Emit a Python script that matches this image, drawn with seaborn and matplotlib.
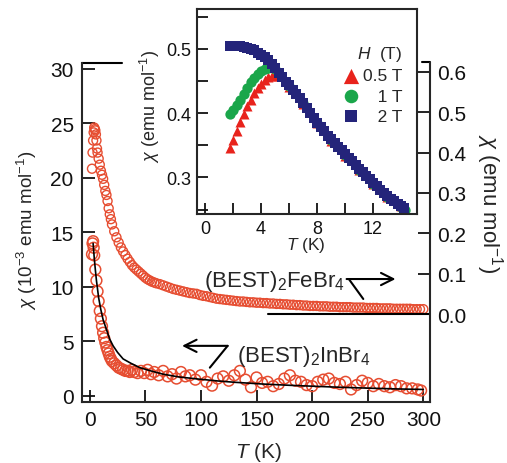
import matplotlib
matplotlib.use("Agg")
import matplotlib.pyplot as plt
import seaborn as sns
from matplotlib.lines import Line2D

# ---------------- main panel data ----------------
# (BEST)2FeBr4, right axis (emu/mol)
fe_T = [2, 2.5, 3, 3.5, 4, 4.5, 5, 5.5, 6, 6.5, 7, 8, 9, 10, 11, 12, 13, 14, 15, 16,
        17, 18, 19, 20, 22, 24, 26, 28, 30, 32, 34, 36, 38, 40, 42, 44, 46, 48, 50, 52,
        54, 56, 58, 60, 63, 66, 69, 72, 75, 78, 81, 84, 87, 90, 93, 96, 99, 102, 105,
        108, 111, 114, 117, 120, 123, 126, 129, 132, 135, 138, 141, 144, 147, 150, 153,
        156, 159, 162, 165, 168, 171, 174, 177, 180, 183, 186, 189, 192, 195, 198, 201,
        204, 207, 210, 213, 216, 219, 222, 225, 228, 231, 234, 237, 240, 243, 246, 249,
        252, 255, 258, 261, 264, 267, 270, 273, 276, 279, 282, 285, 288, 291, 294, 297,
        300]
fe_chi = [0.36, 0.40, 0.43, 0.45, 0.462, 0.458, 0.455, 0.445, 0.43, 0.41, 0.40, 0.385,
          0.37, 0.355, 0.345, 0.335, 0.32, 0.305, 0.295, 0.28, 0.262, 0.247, 0.235, 0.222,
          0.205, 0.19, 0.177, 0.165, 0.155, 0.146, 0.137, 0.129, 0.121, 0.115, 0.11,
          0.105, 0.10, 0.095, 0.09, 0.086, 0.083, 0.08, 0.078, 0.076, 0.074, 0.071, 0.068,
          0.065, 0.062, 0.060, 0.058, 0.056, 0.054, 0.052, 0.051, 0.050, 0.047, 0.045,
          0.044, 0.042, 0.040, 0.038, 0.037, 0.036, 0.035, 0.034, 0.033, 0.032, 0.031,
          0.031, 0.030, 0.029, 0.029, 0.028, 0.028, 0.027, 0.027, 0.026, 0.026, 0.025,
          0.025, 0.024, 0.024, 0.023, 0.023, 0.022, 0.022, 0.021, 0.021, 0.020, 0.020,
          0.020, 0.019, 0.019, 0.019, 0.018, 0.018, 0.018, 0.017, 0.017, 0.017, 0.017,
          0.016, 0.016, 0.016, 0.016, 0.015, 0.015, 0.015, 0.015, 0.014, 0.014, 0.014,
          0.014, 0.013, 0.013, 0.013, 0.013, 0.013, 0.013, 0.012, 0.012, 0.012, 0.012]

# (BEST)2InBr4, left axis (1e-3 emu/mol)
in_T = [2, 2.5, 3, 3.5, 4, 5, 6, 7, 8, 9, 10, 11, 12, 13, 14, 15, 16, 17, 18, 19, 20,
        22, 24, 26, 28, 30, 32, 34, 36, 38, 40, 43, 46, 49, 52, 55, 58, 62, 66, 70, 74,
        78, 82, 86, 90, 95, 100, 105, 110, 115, 120, 125, 130, 135, 140, 145, 150, 155,
        160, 165, 170, 175, 180, 185, 190, 195, 200, 205, 210, 215, 220, 225, 230, 235,
        240, 245, 250, 255, 260, 265, 270, 275, 280, 285, 290, 295, 298]
in_chi = [13.0, 14.0, 14.2, 13.6, 12.9, 11.6, 10.6, 9.6, 8.7, 7.8, 7.1, 6.4, 5.8, 5.3,
          4.9, 4.5, 4.2, 3.9, 3.6, 3.4, 3.2, 3.0, 2.8, 2.6, 2.5, 2.4, 2.3, 2.3, 2.2, 2.4,
          2.2, 2.1, 2.3, 2.1, 2.4, 2.0, 2.2, 1.9, 2.3, 1.8, 2.0, 1.6, 2.2, 1.8, 1.9, 1.5,
          1.9, 1.3, 0.95, 1.6, 1.8, 1.4, 1.9, 2.3, 1.5, 0.8, 1.7, 1.2, 1.3, 0.9, 1.1, 1.6,
          1.9, 1.4, 1.3, 1.0, 0.9, 1.3, 1.5, 1.6, 1.2, 1.1, 1.3, 0.6, 1.0, 1.4, 1.2, 0.9,
          1.1, 0.9, 0.8, 1.0, 0.9, 0.7, 0.7, 0.6, 0.5]

# fit curve for InBr4
fit_T = [3, 4, 5, 6, 8, 10, 12, 15, 18, 21, 25, 30, 37, 45, 55, 66, 80, 97, 115, 130,
         155, 180, 200, 225, 250, 275, 300]
fit_chi = [14.0, 12.7, 11.6, 10.6, 9.0, 7.9, 7.0, 6.1, 5.2, 4.6, 4.0, 3.4, 3.0, 2.6, 2.3,
           2.0, 1.75, 1.56, 1.38, 1.26, 1.1, 0.98, 0.9, 0.8, 0.72, 0.65, 0.6]

# ---------------- inset data ----------------
t05 = [1.8, 2.0, 2.25, 2.5, 2.75, 3.0, 3.25, 3.5, 3.75, 4.0, 4.25, 4.5, 4.75, 5.0,
       6, 7, 8, 9, 10, 11, 12, 13, 14]
c05 = [0.346, 0.358, 0.372, 0.386, 0.399, 0.411, 0.421, 0.431, 0.439, 0.446, 0.452,
       0.456, 0.458, 0.457, 0.441, 0.414, 0.384, 0.357, 0.334, 0.311, 0.289, 0.270, 0.255]
t1 = [1.8, 2.0, 2.25, 2.5, 2.75, 3.0, 3.25, 3.5, 3.75, 4.0, 4.25, 4.5, 5, 6, 7, 8, 9,
      10, 11, 12, 13, 14, 14.3]
c1 = [0.398, 0.405, 0.413, 0.421, 0.430, 0.439, 0.448, 0.455, 0.461, 0.466, 0.469,
      0.470, 0.468, 0.442, 0.415, 0.385, 0.358, 0.335, 0.312, 0.290, 0.270, 0.254, 0.250]
t2 = [1.8, 2.0, 2.25, 2.5, 2.75, 3.0, 3.25, 3.5, 3.75, 4.0, 4.25, 4.5, 4.75, 5.0, 5.25,
      5.5, 5.75, 6.0, 6.25, 6.5, 6.75, 7.0, 7.25, 7.5, 7.75, 8.0, 8.25, 8.5, 8.75, 9.0,
      9.25, 9.5, 9.75, 10.0, 10.25, 10.5, 10.75, 11.0, 11.25, 11.5, 11.75, 12.0, 12.25,
      12.5, 12.75, 13.0, 13.25, 13.5, 13.75, 14.0, 14.2]
c2 = [0.505, 0.505, 0.505, 0.504, 0.503, 0.501, 0.500, 0.498, 0.494, 0.491, 0.487,
      0.483, 0.477, 0.470, 0.463, 0.456, 0.449, 0.443, 0.436, 0.430, 0.423, 0.416, 0.408,
      0.400, 0.393, 0.385, 0.378, 0.372, 0.365, 0.359, 0.353, 0.347, 0.342, 0.336, 0.330,
      0.325, 0.319, 0.313, 0.308, 0.302, 0.297, 0.291, 0.286, 0.280, 0.275, 0.271, 0.267,
      0.263, 0.259, 0.255, 0.252]

main_xticks = [0, 50, 100, 150, 200, 250, 300]
left_yticks = [0, 5, 10, 15, 20, 25, 30]
right_yticks = [0.0, 0.1, 0.2, 0.3, 0.4, 0.5, 0.6]
inset_xticks = [0, 4, 8, 12]
inset_yticks = [0.3, 0.4, 0.5]
field_labels = ["0.5 T", "   1 T", "   2 T"]

RED = "#e64d31"
C05 = "#e8231c"
C1 = "#1aa64a"
C2 = "#24247a"

sns.set_style("ticks")
plt.rcParams["font.family"] = ["Liberation Sans", "DejaVu Sans"]
plt.rcParams["mathtext.fontset"] = "custom"
plt.rcParams["mathtext.rm"] = "Liberation Sans"
plt.rcParams["mathtext.it"] = "Liberation Sans:italic"
plt.rcParams["mathtext.bf"] = "Liberation Sans:bold"

fig = plt.figure(figsize=(5.07, 4.64), dpi=100)
ax = fig.add_axes([0.1617, 0.1315, 0.6864, 0.7306])
ax2 = ax.twinx()

# InBr4 on left axis
sns.scatterplot(x=in_T, y=in_chi, ax=ax, s=60, marker="o", color=RED,
                facecolor="none", edgecolor=RED, linewidth=1.1, zorder=2)
sns.lineplot(x=fit_T, y=fit_chi, ax=ax, color="black", lw=1.2, zorder=3)
# FeBr4 on right axis
sns.scatterplot(x=fe_T, y=fe_chi, ax=ax2, s=42, marker="o", color=RED,
                facecolor="none", edgecolor=RED, linewidth=1.0, zorder=2)

LW = 1.5
ax.set_xlim(-7, 306)
ax.set_ylim(-0.55, 30.55)
ax2.set_ylim(-0.218, 0.622)
ax.set_xticks(main_xticks)
ax.set_yticks(left_yticks)
ax2.set_yticks(right_yticks)
ax2.set_yticklabels([f"{v:.1f}" for v in right_yticks])

for s in ["top", "right"]:
    ax.spines[s].set_visible(False)
for s in ["top", "left", "bottom"]:
    ax2.spines[s].set_visible(False)
ax.spines["left"].set_linewidth(LW)
ax.spines["bottom"].set_linewidth(LW)
ax2.spines["right"].set_linewidth(LW)

ax.tick_params(axis="both", direction="in", length=9, width=1.3, labelsize=15,
               pad=6, colors="#111111")
ax.tick_params(axis="y", right=False)
ax2.tick_params(axis="y", direction="in", length=9, width=1.3, labelsize=15,
                pad=5, colors="#111111")

# short top-spine pieces
ax.add_line(Line2D([0, 0.115], [1, 1], transform=ax.transAxes, color="k", lw=LW,
                   clip_on=False))
ax.add_line(Line2D([0.978, 1.0], [1.002, 1.002], transform=ax.transAxes, color="k",
                   lw=LW, clip_on=False))
# zero baseline of right axis
ax2.axhline(0, xmin=0.534, xmax=1, color="k", lw=LW)

# axis titles
ax.text(-0.158, 0.51, r"$\chi$ (10$^{-3}$ emu mol$^{-1}$)", transform=ax.transAxes,
        rotation=90, ha="center", va="center", fontsize=13.5)
ax.text(1.171, 0.588, r"$\chi$ (emu mol$^{-1}$)", transform=ax.transAxes,
        rotation=270, ha="center", va="center", fontsize=16)
ax.text(0.506, -0.145, "$T$ (K)", transform=ax.transAxes, ha="center", va="center",
        fontsize=15)

# annotations
ax.text(229.5, 10.6, "(BEST)$_2$FeBr$_4$", ha="right", va="center", fontsize=16)
ax.annotate("", xy=(275, 10.73), xytext=(231, 10.73),
            arrowprops=dict(arrowstyle="->", lw=1.5, mutation_scale=22, color="k",
                            shrinkA=0, shrinkB=0))
ax.annotate("", xy=(246, 8.9), xytext=(233, 10.73),
            arrowprops=dict(arrowstyle="-", lw=1.5, color="k", shrinkA=0, shrinkB=0))

ax.text(132, 3.75, "(BEST)$_2$InBr$_4$", ha="left", va="center", fontsize=16)
ax.annotate("", xy=(83, 4.6), xytext=(124, 4.6),
            arrowprops=dict(arrowstyle="->", lw=1.5, mutation_scale=22, color="k",
                            shrinkA=0, shrinkB=0))
ax.annotate("", xy=(108, 2.6), xytext=(124, 4.6),
            arrowprops=dict(arrowstyle="-", lw=1.5, color="k", shrinkA=0, shrinkB=0))

# ---------------- inset ----------------
axi = fig.add_axes([0.3886, 0.5366, 0.4339, 0.4418])
axi.set_facecolor("white")
sns.scatterplot(x=t05, y=c05, ax=axi, marker="^", s=52, color=C05, linewidth=0,
                label=field_labels[0])
sns.scatterplot(x=t1, y=c1, ax=axi, marker="o", s=55, color=C1, linewidth=0,
                label=field_labels[1])
sns.scatterplot(x=t2, y=c2, ax=axi, marker="s", s=45, color=C2, linewidth=0,
                label=field_labels[2])
axi.set_xlim(-0.57, 15.14)
axi.set_ylim(0.243, 0.562)
axi.set_xticks(inset_xticks)
axi.set_xticks([2, 6, 10, 14], minor=True)
axi.set_yticks(inset_yticks)
axi.set_yticks([0.25, 0.35, 0.45, 0.55], minor=True)
for s in axi.spines.values():
    s.set_linewidth(LW)
axi.tick_params(which="both", direction="in", length=8, width=1.3, labelsize=13,
                pad=4, colors="#111111")
axi.set_xlabel("")
axi.set_ylabel("")
axi.text(-0.215, 0.53, r"$\chi$ (emu mol$^{-1}$)", transform=axi.transAxes,
         rotation=90, ha="center", va="center", fontsize=13)
axi.text(0.495, -0.15, "$T$ (K)", transform=axi.transAxes, ha="center",
         va="center", fontsize=12.5)
leg = axi.legend(title="$H$  (T)", loc="upper right", bbox_to_anchor=(0.935, 0.83),
                 frameon=False, fontsize=12.5, title_fontsize=12.5, handletextpad=0.2,
                 labelspacing=0.3, borderaxespad=0, borderpad=0, handlelength=1.0,
                 alignment="right")
for h, sz in zip(leg.legend_handles, [120, 95, 80]):
    h.set_sizes([sz])

fig.savefig("out.png", dpi=100)
